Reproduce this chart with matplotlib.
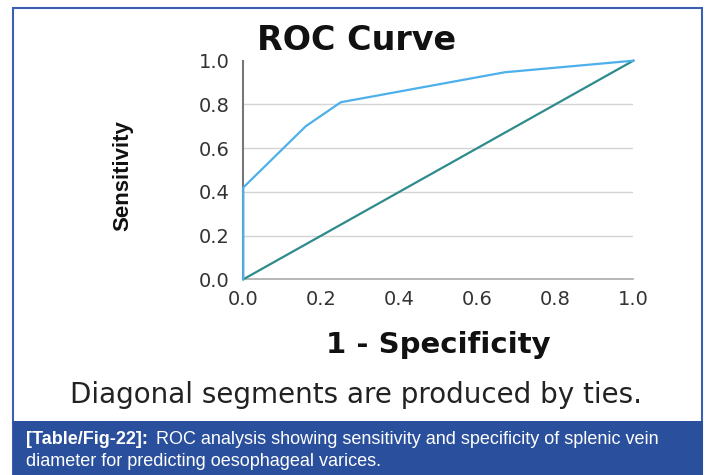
import matplotlib
matplotlib.use("Agg")
import matplotlib.pyplot as plt
from matplotlib.patches import Rectangle

# Data
fpr = [0.0, 0.0, 0.16, 0.25, 0.67, 1.0]
tpr = [0.0, 0.42, 0.70, 0.81, 0.947, 1.0]
ref_x = [0.0, 1.0]
ref_y = [0.0, 1.0]
ticks = [0.0, 0.2, 0.4, 0.6, 0.8, 1.0]
tick_labels = ["0.0", "0.2", "0.4", "0.6", "0.8", "1.0"]

W, H = 708, 475
fig = plt.figure(figsize=(W / 100, H / 100), dpi=100)
fig.patch.set_facecolor("white")

def fx(px):
    return px / W

def fy(py):
    return 1 - py / H

# outer frame
fig.add_artist(Rectangle((fx(13), fy(474)), fx(702) - fx(13), fy(8) - fy(474),
                         transform=fig.transFigure, facecolor="none",
                         edgecolor="#3b5fb3", linewidth=1.5, zorder=5))
# caption box
fig.add_artist(Rectangle((fx(13), 0), fx(703) - fx(13), fy(421),
                         transform=fig.transFigure, facecolor="#2a4f9c",
                         edgecolor="none", zorder=6))

ax = fig.add_axes([fx(243.3), fy(279.3), fx(633.3) - fx(243.3), fy(60.7) - fy(279.3)])
ax.set_facecolor("none")
ax.set_xlim(0, 1)
ax.set_ylim(0, 1)
for y in ticks[1:-1]:
    ax.axhline(y, color="#d4d4d4", linewidth=1.0, zorder=1)
ax.plot(ref_x, ref_y, color="#2e8b8b", linewidth=1.6, zorder=3, clip_on=False)
ax.plot(fpr, tpr, color="#4db0ea", linewidth=1.6, zorder=4, clip_on=False)

for s in ["top", "right"]:
    ax.spines[s].set_visible(False)
ax.spines["left"].set_color("#777777")
ax.spines["left"].set_linewidth(1.5)
ax.spines["bottom"].set_color("#aaaaaa")
ax.spines["bottom"].set_linewidth(1.2)
ax.tick_params(length=0)
ax.set_xticks(ticks)
ax.set_yticks(ticks)
ax.set_xticklabels(tick_labels, fontsize=14, color="#333333", family="DejaVu Sans")
ax.set_yticklabels(tick_labels, fontsize=14, color="#333333", family="DejaVu Sans")
ax.tick_params(axis="x", pad=8)
ax.tick_params(axis="y", pad=10)

fig.text(fx(357), fy(40), "ROC Curve", fontsize=24, fontweight="bold",
         ha="center", va="center", family="DejaVu Sans", color="#111111")
fig.text(fx(438), fy(345), "1 - Specificity", fontsize=21, fontweight="bold",
         ha="center", va="center", family="DejaVu Sans", color="#111111")
fig.text(fx(123), fy(176), "Sensitivity", fontsize=16, fontweight="bold",
         ha="center", va="center", rotation=90,
         family=["Liberation Sans", "DejaVu Sans"], color="#111111")
fig.text(fx(356), fy(395), "Diagonal segments are produced by ties.", fontsize=20,
         ha="center", va="center", family="DejaVu Sans", color="#222222")

# caption
cap_fam = ["Liberation Sans", "DejaVu Sans"]
t1 = fig.text(fx(26), fy(440), "[Table/Fig-22]:", fontsize=13, fontweight="bold",
              ha="left", va="center", family=cap_fam, color="white", zorder=7)
fig.canvas.draw()
bb = t1.get_window_extent(renderer=fig.canvas.get_renderer())
fig.text(bb.x1 / W + fx(8), fy(440),
         "ROC analysis showing sensitivity and specificity of splenic vein",
         fontsize=13, ha="left", va="center", family=cap_fam, color="white", zorder=7)
fig.text(fx(26), fy(462), "diameter for predicting oesophageal varices.",
         fontsize=13, ha="left", va="center", family=cap_fam, color="white", zorder=7)

fig.savefig("out.png", dpi=100)
